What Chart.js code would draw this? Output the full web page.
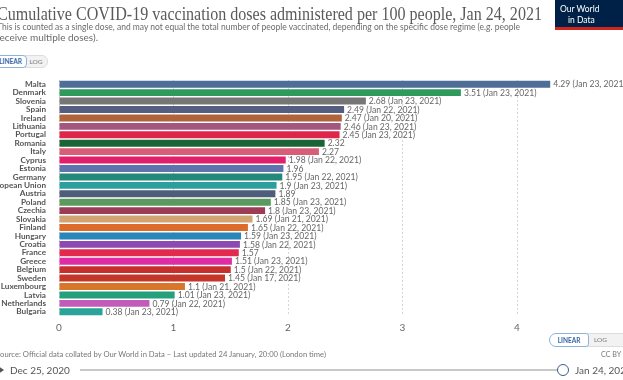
<!DOCTYPE html>
<html>
<head>
<meta charset="utf-8">
<script src="https://cdn.jsdelivr.net/npm/chart.js@4"></script>
<style>
  html,body{margin:0;padding:0;background:#fff;}
  #wrap{position:relative;width:623px;height:380px;overflow:hidden;font-family:Lato,"Open Sans",sans-serif;}
  #c{position:absolute;left:0;top:0;}
  .t{position:absolute;white-space:nowrap;transform-origin:0 50%;line-height:1;}
  #title{left:-3px;top:5px;font-family:"Liberation Serif","DejaVu Serif",serif;font-size:18px;color:#5a5a5a;}
  .sub{font-size:8.6px;color:#6b6b6b;}
  .btn{position:absolute;box-sizing:border-box;font-size:6.5px;font-weight:bold;display:flex;align-items:center;justify-content:center;}
  #logo{position:absolute;left:555px;top:0;width:70px;height:30px;background:#002147;border-bottom:3px solid #ce261e;box-sizing:border-box;color:#fff;font-size:8.5px;}
</style>
</head>
<body>
<div id="wrap">
  <canvas id="c" width="623" height="380"></canvas>
  <div class="t" id="title" data-w="545">Cumulative COVID-19 vaccination doses administered per 100 people, Jan 24, 2021</div>
  <div class="t sub" style="left:-3px;top:23px" data-w="523">This is counted as a single dose, and may not equal the total number of people vaccinated, depending on the specific dose regime (e.g. people</div>
  <div class="t sub" style="left:-4px;top:34px" data-w="102">receive multiple doses).</div>

  <div class="btn" style="left:-6px;top:55px;width:33px;height:13px;border:1px solid #8ab4dc;border-radius:4px;color:#3565a5;background:#fff;z-index:2">LINEAR</div>
  <div class="btn" style="left:24px;top:55px;width:24px;height:13px;border:1px solid #ddd;border-radius:0 6px 6px 0;color:#777;background:#f2f2f2;font-weight:normal">LOG</div>

  <div id="logo"><div class="t" style="left:5px;top:5px">Our World</div><div class="t" style="left:13px;top:16px">in Data</div></div>

  <div class="btn" style="left:587px;top:333px;width:40px;height:14px;border:1px solid #ddd;color:#777;background:#f2f2f2;font-weight:normal;"></div>
  <div class="t" style="left:594px;top:337px;font-size:6.5px;color:#777;">LOG</div>
  <div class="btn" style="left:549px;top:333px;width:40px;height:14px;border:1px solid #8ab4dc;border-radius:7px 3px 3px 7px;color:#3565a5;background:#fff;">LINEAR</div>

  <div class="t" style="left:-4px;top:351px;font-size:7.2px;color:#777" data-w="330">Source: Official data collated by Our World in Data – Last updated 24 January, 20:00 (London time)</div>
  <div class="t" style="left:601px;top:351px;font-size:7.2px;color:#777">CC BY</div>

  <div style="position:absolute;left:-2px;top:366px;width:0;height:0;border-top:4px solid transparent;border-bottom:4px solid transparent;border-left:6px solid #555"></div>
  <div class="t" style="left:10px;top:365px;font-size:10px;color:#555">Dec 25, 2020</div>
  <div style="position:absolute;left:80px;top:369px;width:480px;height:2px;background:#c8c8c8"></div>
  <div style="position:absolute;left:557px;top:364px;width:12px;height:12px;box-sizing:border-box;border:1.5px solid #3c5c8c;border-radius:50%;background:#fff"></div>
  <div class="t" style="left:575px;top:365px;font-size:10px;color:#555">Jan 24, 2021</div>
</div>
<script>
const countries = ["Malta","Denmark","Slovenia","Spain","Ireland","Lithuania","Portugal","Romania","Italy","Cyprus","Estonia","Germany","European Union","Austria","Poland","Czechia","Slovakia","Finland","Hungary","Croatia","France","Greece","Belgium","Sweden","Luxembourg","Latvia","Netherlands","Bulgaria"];
const values = [4.29,3.51,2.68,2.49,2.47,2.46,2.45,2.32,2.27,1.98,1.96,1.95,1.9,1.89,1.85,1.8,1.69,1.65,1.59,1.58,1.57,1.51,1.5,1.45,1.1,1.01,0.79,0.38];
const dates = ["Jan 23, 2021","Jan 23, 2021","Jan 23, 2021","Jan 22, 2021","Jan 20, 2021","Jan 23, 2021","Jan 23, 2021","","","Jan 22, 2021","","Jan 22, 2021","Jan 23, 2021","","Jan 23, 2021","Jan 23, 2021","Jan 21, 2021","Jan 22, 2021","Jan 23, 2021","Jan 22, 2021","","Jan 23, 2021","Jan 22, 2021","Jan 17, 2021","Jan 21, 2021","Jan 23, 2021","Jan 22, 2021","Jan 23, 2021"];
const colors = ["#4e6e98","#2e9b5c","#767676","#535e80","#b0643a","#a2577f","#e0254a","#1b6436","#d85e78","#e2206a","#5f73ad","#24897a","#2a9f9e","#4d5d7a","#5a9a5c","#9d3c56","#d2a472","#dd6c2a","#2a86b6","#8c4bb0","#e32a4e","#e02ba3","#c5302e","#c33629","#d8772b","#24a07c","#c25bba","#2aa399"];
const xTicks = [0,1,2,3,4];

document.querySelectorAll('[data-w]').forEach(el=>{
  const w = el.getBoundingClientRect().width;
  const target = parseFloat(el.dataset.w);
  el.style.transform = 'scaleX(' + (target/w) + ')';
});

const labelPlugin = {
  id:'barLabels',
  afterDatasetsDraw(chart){
    const ctx = chart.ctx;
    const meta = chart.getDatasetMeta(0);
    ctx.save();
    ctx.font = '8.6px Lato';
    ctx.fillStyle = '#666';
    ctx.textBaseline = 'middle';
    ctx.textAlign = 'left';
    meta.data.forEach((bar,i)=>{
      const txt = values[i] + (dates[i] ? ' (' + dates[i] + ')' : '');
      ctx.fillText(txt, bar.x + 3, bar.y + 0.5);
    });
    ctx.restore();
  }
};

new Chart(document.getElementById('c'), {
  type:'bar',
  data:{labels:countries, datasets:[{data:values, backgroundColor:colors, barPercentage:0.82, categoryPercentage:1}]},
  options:{
    indexAxis:'y',
    responsive:false,
    animation:false,
    layout:{padding:{top:80,bottom:44,right:48.75,left:0}},
    plugins:{legend:{display:false},tooltip:{enabled:false}},
    scales:{
      x:{
        min:0,max:4.5,
        afterFit(s){s.height=20;},
        afterBuildTicks(s){s.ticks = xTicks.map(v=>({value:v}));},
        grid:{color:'#d6d6d6',drawTicks:false,lineWidth:1},
        border:{display:false,dash:[2,2]},
        ticks:{padding:6,color:'#666',font:{family:'Lato',size:10},callback:v=>v}
      },
      y:{
        afterFit(s){s.width=59;},
        grid:{display:false},
        border:{display:false},
        ticks:{padding:5,color:'#555',autoSkip:false,font:{family:'Lato',size:8.2,weight:'bold'}}
      }
    }
  },
  plugins:[labelPlugin]
});
</script>
</body>
</html>
